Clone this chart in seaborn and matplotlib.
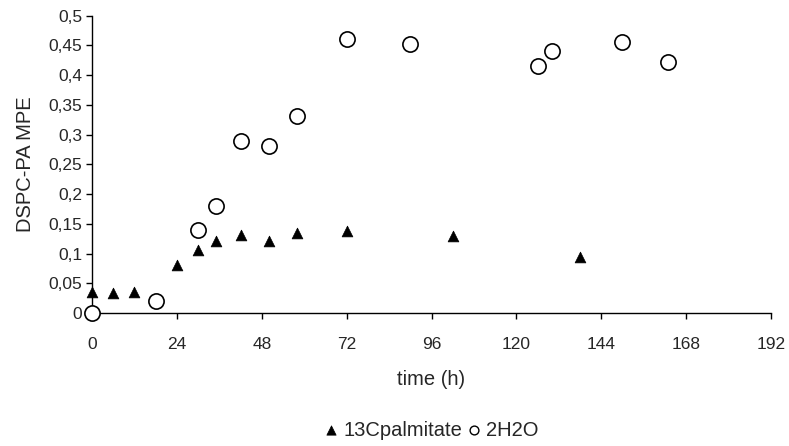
import numpy as np
import pandas as pd
import seaborn as sns
import matplotlib
matplotlib.use("Agg")
import matplotlib.pyplot as plt
from matplotlib.ticker import FuncFormatter, MultipleLocator

# 13C palmitate
palm_t = [0, 6, 12, 24, 30, 35, 42, 50, 58, 72, 102, 138]
palm_mpe = [0.035, 0.033, 0.035, 0.081, 0.106, 0.121, 0.132, 0.121, 0.135, 0.138, 0.130, 0.095]

# 2H2O
h2o_t = [0, 18, 30, 35, 42, 50, 58, 72, 90, 126, 130, 150, 163]
h2o_mpe = [0.0, 0.020, 0.140, 0.180, 0.289, 0.281, 0.332, 0.460, 0.452, 0.416, 0.441, 0.455, 0.422]

sns.set_style("ticks")
plt.rcParams['font.family'] = ['Liberation Sans', 'DejaVu Sans']

palm = pd.DataFrame({"time": palm_t, "mpe": palm_mpe})
h2o = pd.DataFrame({"time": h2o_t, "mpe": h2o_mpe})

fig = plt.figure(figsize=(7.89, 4.46), dpi=100)
ax = fig.add_axes([0.1166, 0.298, 0.8606, 0.667])

sns.scatterplot(data=palm, x="time", y="mpe", marker="^", s=60, color="black",
                edgecolor="black", linewidth=0.5, label="13Cpalmitate", ax=ax,
                zorder=3, clip_on=False)
sns.scatterplot(data=h2o, x="time", y="mpe", marker="o", s=120, facecolor="white",
                edgecolor="black", linewidth=1.2, label="2H2O", ax=ax,
                zorder=3, clip_on=False)

ax.set_xlim(0, 192)
ax.set_ylim(0, 0.5)
ax.xaxis.set_major_locator(MultipleLocator(24))
ax.yaxis.set_major_locator(MultipleLocator(0.05))
ax.yaxis.set_major_formatter(FuncFormatter(lambda v, p: f"{round(v, 2):g}".replace('.', ',')))
for sp in ["top", "right"]:
    ax.spines[sp].set_visible(False)
for sp in ["left", "bottom"]:
    ax.spines[sp].set_linewidth(1)
    ax.spines[sp].set_color("black")
ax.tick_params(axis="both", labelsize=12.5, length=4, width=1, color="black")
ax.tick_params(axis="x", pad=13)
ax.tick_params(axis="y", pad=3)
ax.set_xlabel("time (h)", fontsize=14.5, labelpad=13)
ax.set_ylabel("DSPC-PA MPE", fontsize=14.5, labelpad=10)

ax.legend(loc="center", frameon=False, ncol=2, handletextpad=0.3, columnspacing=0.3,
          handlelength=0.6, fontsize=14.5, borderaxespad=0)
leg = ax.get_legend()
leg.legend_handles[0].set_sizes([45])
leg.legend_handles[1].set_sizes([40])
leg.legend_handles[1].set_linewidth(1.0)
leg.set_bbox_to_anchor((432 / 789, 16 / 446), transform=fig.transFigure)

fig.savefig("out.png", dpi=100)
